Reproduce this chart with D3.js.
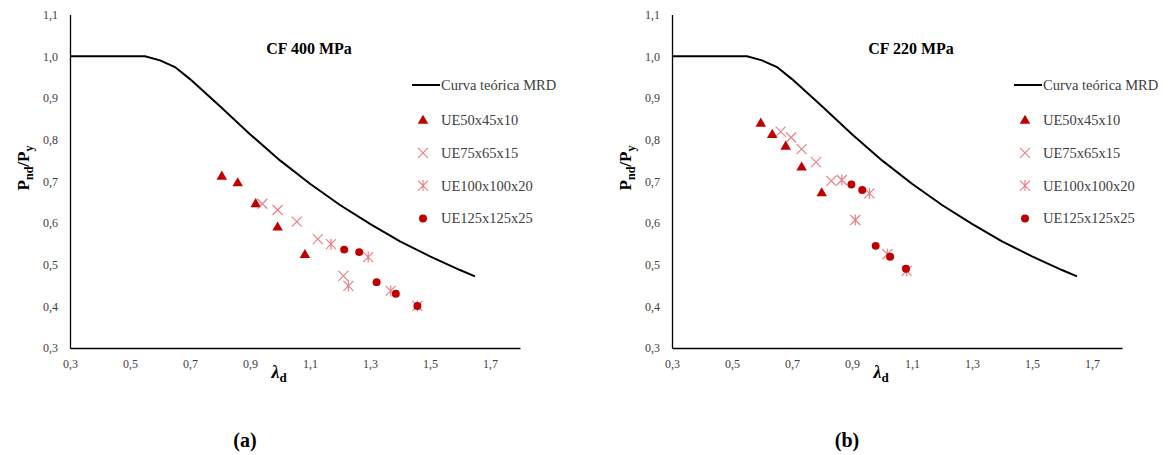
<!DOCTYPE html>
<html>
<head>
<meta charset="utf-8">
<script src="https://cdn.jsdelivr.net/npm/d3@7"></script>
<style>
  body { margin: 0; background: #fff; }
  svg text { font-family: 'Liberation Serif', 'Times New Roman', Tinos; }
</style>
</head>
<body>
<svg id="chart" width="1170" height="455"></svg>
<script>
// theoretical MRD curve
const curveLambda = [0.3, 0.4, 0.5, 0.55, 0.6, 0.65, 0.7, 0.8, 0.9, 1.0, 1.1, 1.2, 1.3, 1.4, 1.5, 1.6, 1.65];
const curveP = [1.0, 1.0, 1.0, 1.0, 0.99, 0.974, 0.945, 0.88, 0.813, 0.75, 0.694, 0.643, 0.598, 0.556, 0.52, 0.487, 0.472];

const seriesNames = ["UE50x45x10", "UE75x65x15", "UE100x100x20", "UE125x125x25"];
const xTicks = [0.3, 0.5, 0.7, 0.9, 1.1, 1.3, 1.5, 1.7];
const yTicks = [0.3, 0.4, 0.5, 0.6, 0.7, 0.8, 0.9, 1.0, 1.1];

// CF 400 MPa
const cf400Lambda = [
  [0.806, 0.859, 0.919, 0.992, 1.083],
  [0.941, 0.992, 1.056, 1.126, 1.211],
  [1.170, 1.294, 1.228, 1.369, 1.458],
  [1.214, 1.264, 1.322, 1.386, 1.458]
];
const cf400P = [
  [0.713, 0.697, 0.647, 0.591, 0.525],
  [0.646, 0.631, 0.603, 0.561, 0.473],
  [0.549, 0.518, 0.449, 0.437, 0.401],
  [0.536, 0.530, 0.458, 0.430, 0.401]
];

// CF 220 MPa
const cf220Lambda = [
  [0.596, 0.634, 0.679, 0.732, 0.799],
  [0.662, 0.697, 0.732, 0.780, 0.831],
  [0.866, 0.958, 0.911, 1.018, 1.082],
  [0.898, 0.934, 0.979, 1.027, 1.080]
];
const cf220P = [
  [0.840, 0.813, 0.785, 0.735, 0.673],
  [0.819, 0.805, 0.777, 0.746, 0.701],
  [0.703, 0.671, 0.607, 0.525, 0.485],
  [0.692, 0.679, 0.545, 0.519, 0.490]
];

const panels = [
  {title: "CF 400 MPa", tag: "(a)", lambda: cf400Lambda, p: cf400P, dx: 0},
  {title: "CF 220 MPa", tag: "(b)", lambda: cf220Lambda, p: cf220P, dx: 602}
];

const serif = "'Liberation Serif', 'Times New Roman', Tinos";
const dark = "#C00000";
const pink = "rgba(222, 60, 70, 0.65)";
const fmt = d => d3.format(".1f")(d).replace(".", ",");

let svg = d3.select("#chart").style("font-family", serif);

let x = d3.scaleLinear().domain([0.3, 1.8]).range([70, 520]);
let y = d3.scaleLinear().domain([0.3, 1.1]).range([348, 14.5]);

let line = d3.line()
    .x(function (d, i) { return x(curveLambda[i]); })
    .y(function (d) { return y(d); });

// marker drawers, drawn at origin then translated
function drawMarker(g, k) {
    if (k === 0) {
        g.append("path")
            .attr("d", d3.symbol().type(d3.symbolTriangle).size(48)())
            .attr("transform", "translate(0,0.8)")
            .style("fill", dark);
    } else if (k === 3) {
        g.append("path")
            .attr("d", d3.symbol().type(d3.symbolCircle).size(50)())
            .style("fill", dark);
    } else {
        g.append("path")
            .attr("d", "M-5,-5L5,5M-5,5L5,-5" + (k === 2 ? "M0,-5.5L0,5.5" : ""))
            .style("fill", "none")
            .style("stroke", pink)
            .style("stroke-width", 1.2);
    }
}

panels.forEach(function (pn) {
    let g = svg.append("g").attr("transform", "translate(" + pn.dx + ",0)");

    // axes
    let xAxis = d3.axisBottom(x).tickValues(xTicks).tickSize(0).tickPadding(11).tickFormat(fmt);
    let yAxis = d3.axisLeft(y).tickValues(yTicks).tickSize(0).tickPadding(12).tickFormat(fmt);

    let gx = g.append("g").attr("transform", "translate(0," + y(0.3) + ")").call(xAxis);
    let gy = g.append("g").attr("transform", "translate(" + x(0.3) + ",0)").call(yAxis);
    [gx, gy].forEach(function (a) {
        a.attr("font-family", null);
        a.select(".domain").style("stroke", "#000").style("stroke-width", 1.3);
        a.selectAll("text")
            .style("font-family", serif)
            .style("font-size", "12px")
            .style("fill", "#404040");
    });

    // title
    g.append("text")
        .attr("x", 309)
        .attr("y", 54)
        .attr("text-anchor", "middle")
        .style("font-size", "16px")
        .style("font-weight", "bold")
        .text(pn.title);

    // y label
    let yl = g.append("text")
        .attr("transform", "translate(29,168) rotate(-90)")
        .attr("text-anchor", "middle")
        .style("font-size", "17px")
        .style("font-weight", "bold");
    yl.append("tspan").text("P");
    yl.append("tspan").attr("dy", 4).style("font-size", "12px").text("nd");
    yl.append("tspan").attr("dy", -4).text("/P");
    yl.append("tspan").attr("dy", 4).style("font-size", "12px").text("y");

    // x label
    let xl = g.append("text")
        .attr("x", 279)
        .attr("y", 378)
        .attr("text-anchor", "middle")
        .style("font-size", "18px")
        .style("font-weight", "bold");
    xl.append("tspan").style("font-style", "italic").text("λ");
    xl.append("tspan").attr("dy", 4).style("font-size", "13px").text("d");

    // curve
    g.append("path")
        .datum(curveP)
        .attr("d", line)
        .style("fill", "none")
        .style("stroke", "#000")
        .style("stroke-width", 2);

    // points
    pn.lambda.forEach(function (arr, k) {
        g.selectAll(".s" + k)
            .data(arr)
            .enter().append("g")
            .attr("class", "s" + k)
            .attr("transform", function (d, i) {
                return "translate(" + x(d) + "," + y(pn.p[k][i]) + ")";
            })
            .each(function () { drawMarker(d3.select(this), k); });
    });

    // legend
    let lg = g.append("g").attr("transform", "translate(412,0)");
    lg.append("line")
        .attr("x1", 0).attr("x2", 28)
        .attr("y1", 85).attr("y2", 85)
        .style("stroke", "#000").style("stroke-width", 2);
    lg.append("text")
        .attr("x", 29).attr("y", 90)
        .style("font-size", "14.5px")
        .style("fill", "#404040")
        .text("Curva teórica MRD");

    seriesNames.forEach(function (name, k) {
        let ry = 120 + k * 32.8;
        let m = lg.append("g").attr("transform", "translate(11," + ry + ")");
        drawMarker(m, k);
        lg.append("text")
            .attr("x", 29).attr("y", ry + 5)
            .style("font-size", "14.5px")
            .style("fill", "#404040")
            .text(name);
    });

    // panel tag
    g.append("text")
        .attr("x", 245)
        .attr("y", 447)
        .attr("text-anchor", "middle")
        .style("font-size", "20px")
        .style("font-weight", "bold")
        .text(pn.tag);
});
</script>
</body>
</html>
